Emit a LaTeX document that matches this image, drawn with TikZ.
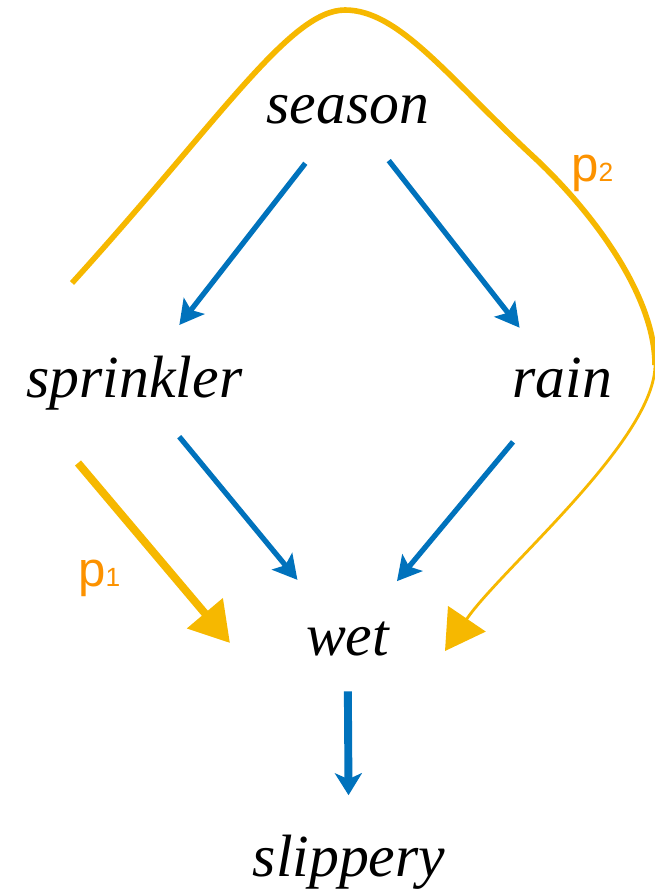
\documentclass[tikz,border=0pt]{standalone}
\usepackage{fontspec}
\setmainfont{Liberation Serif}
\newfontfamily\pathfont{Liberation Sans}
\usetikzlibrary{arrows.meta,calc}
\definecolor{arrowblue}{RGB}{0,114,188}
\definecolor{pathyellow}{RGB}{246,184,0}
\definecolor{labelorange}{RGB}{252,146,0}

\begin{document}
\begin{tikzpicture}[x=0.02cm, y=-0.02cm,
  every node/.style={font=\fontsize{34}{40}\selectfont\itshape},
  var/.style={anchor=base, inner sep=0pt, text height=0.84cm, text depth=0.26cm},
  dep/.style={draw=arrowblue, line width=3pt, -{Stealth[length=0.48cm,width=0.52cm,inset=0.1cm]}},
  trail/.style={draw=pathyellow, line width=4.5pt, -{Triangle[length=0.78cm,width=0.9cm]}},
  plabel/.style={anchor=base west, inner sep=0pt, text=labelorange, font={\pathfont\fontsize{28}{34}\selectfont}}]
\useasboundingbox (0,0) rectangle (654,894);
% variables
\node[var] (season) at (348,123) {season};
\node[var] (sprinkler) at (134.5,397) {sprinkler};
\node[var] (rain) at (562.5,397) {rain};
\node[var] (wet) at (347.5,655) {wet};
\node[var] (slippery) at (349,876) {slippery};
% dependencies
\draw[dep] ($(season)!0.2!(sprinkler)$) -- ($(season)!0.79!(sprinkler)$);
\draw[dep] ($(season)!0.19!(rain)$) -- ($(season)!0.8!(rain)$);
\draw[dep] ($(sprinkler)!0.21!(wet)$) -- ($(sprinkler)!0.765!(wet)$);
\draw[dep] ($(rain)!0.23!(wet)$) -- ($(rain)!0.77!(wet)$);
\draw[dep, line width=4.5pt, -{Stealth[length=0.44cm,width=0.54cm,inset=0.12cm]}] ($(wet)!0.23!(slippery)$) -- ($(wet)!0.7!(slippery)$);
% paths
\coordinate (p1a) at (78,463);
\coordinate (p1b) at (230,643);
\draw[trail] (p1a) -- (p1b);
\coordinate (p2a) at (72,283);
\coordinate (p2top) at (345,10);
\coordinate (p2r) at (537,160);
\coordinate (p2side) at (655,365);
\coordinate (p2b) at (445,651);
\draw[trail, line width=3.2pt, -] (p2a) .. controls (220,120) and (290,10) .. (p2top)
  .. controls (400,10) and (450,80) .. (p2r) .. controls (600,220) and (655,300) .. (p2side);
\draw[trail, line width=1.6pt] (p2side) .. controls (655,440) and (500,570) .. (p2b);
\node[plabel] (p1) at (78,586) {p{\fontsize{15}{18}\selectfont 1}};
\node[plabel] (p2) at (571,181) {p{\fontsize{15}{18}\selectfont 2}};
\end{tikzpicture}
\end{document}
